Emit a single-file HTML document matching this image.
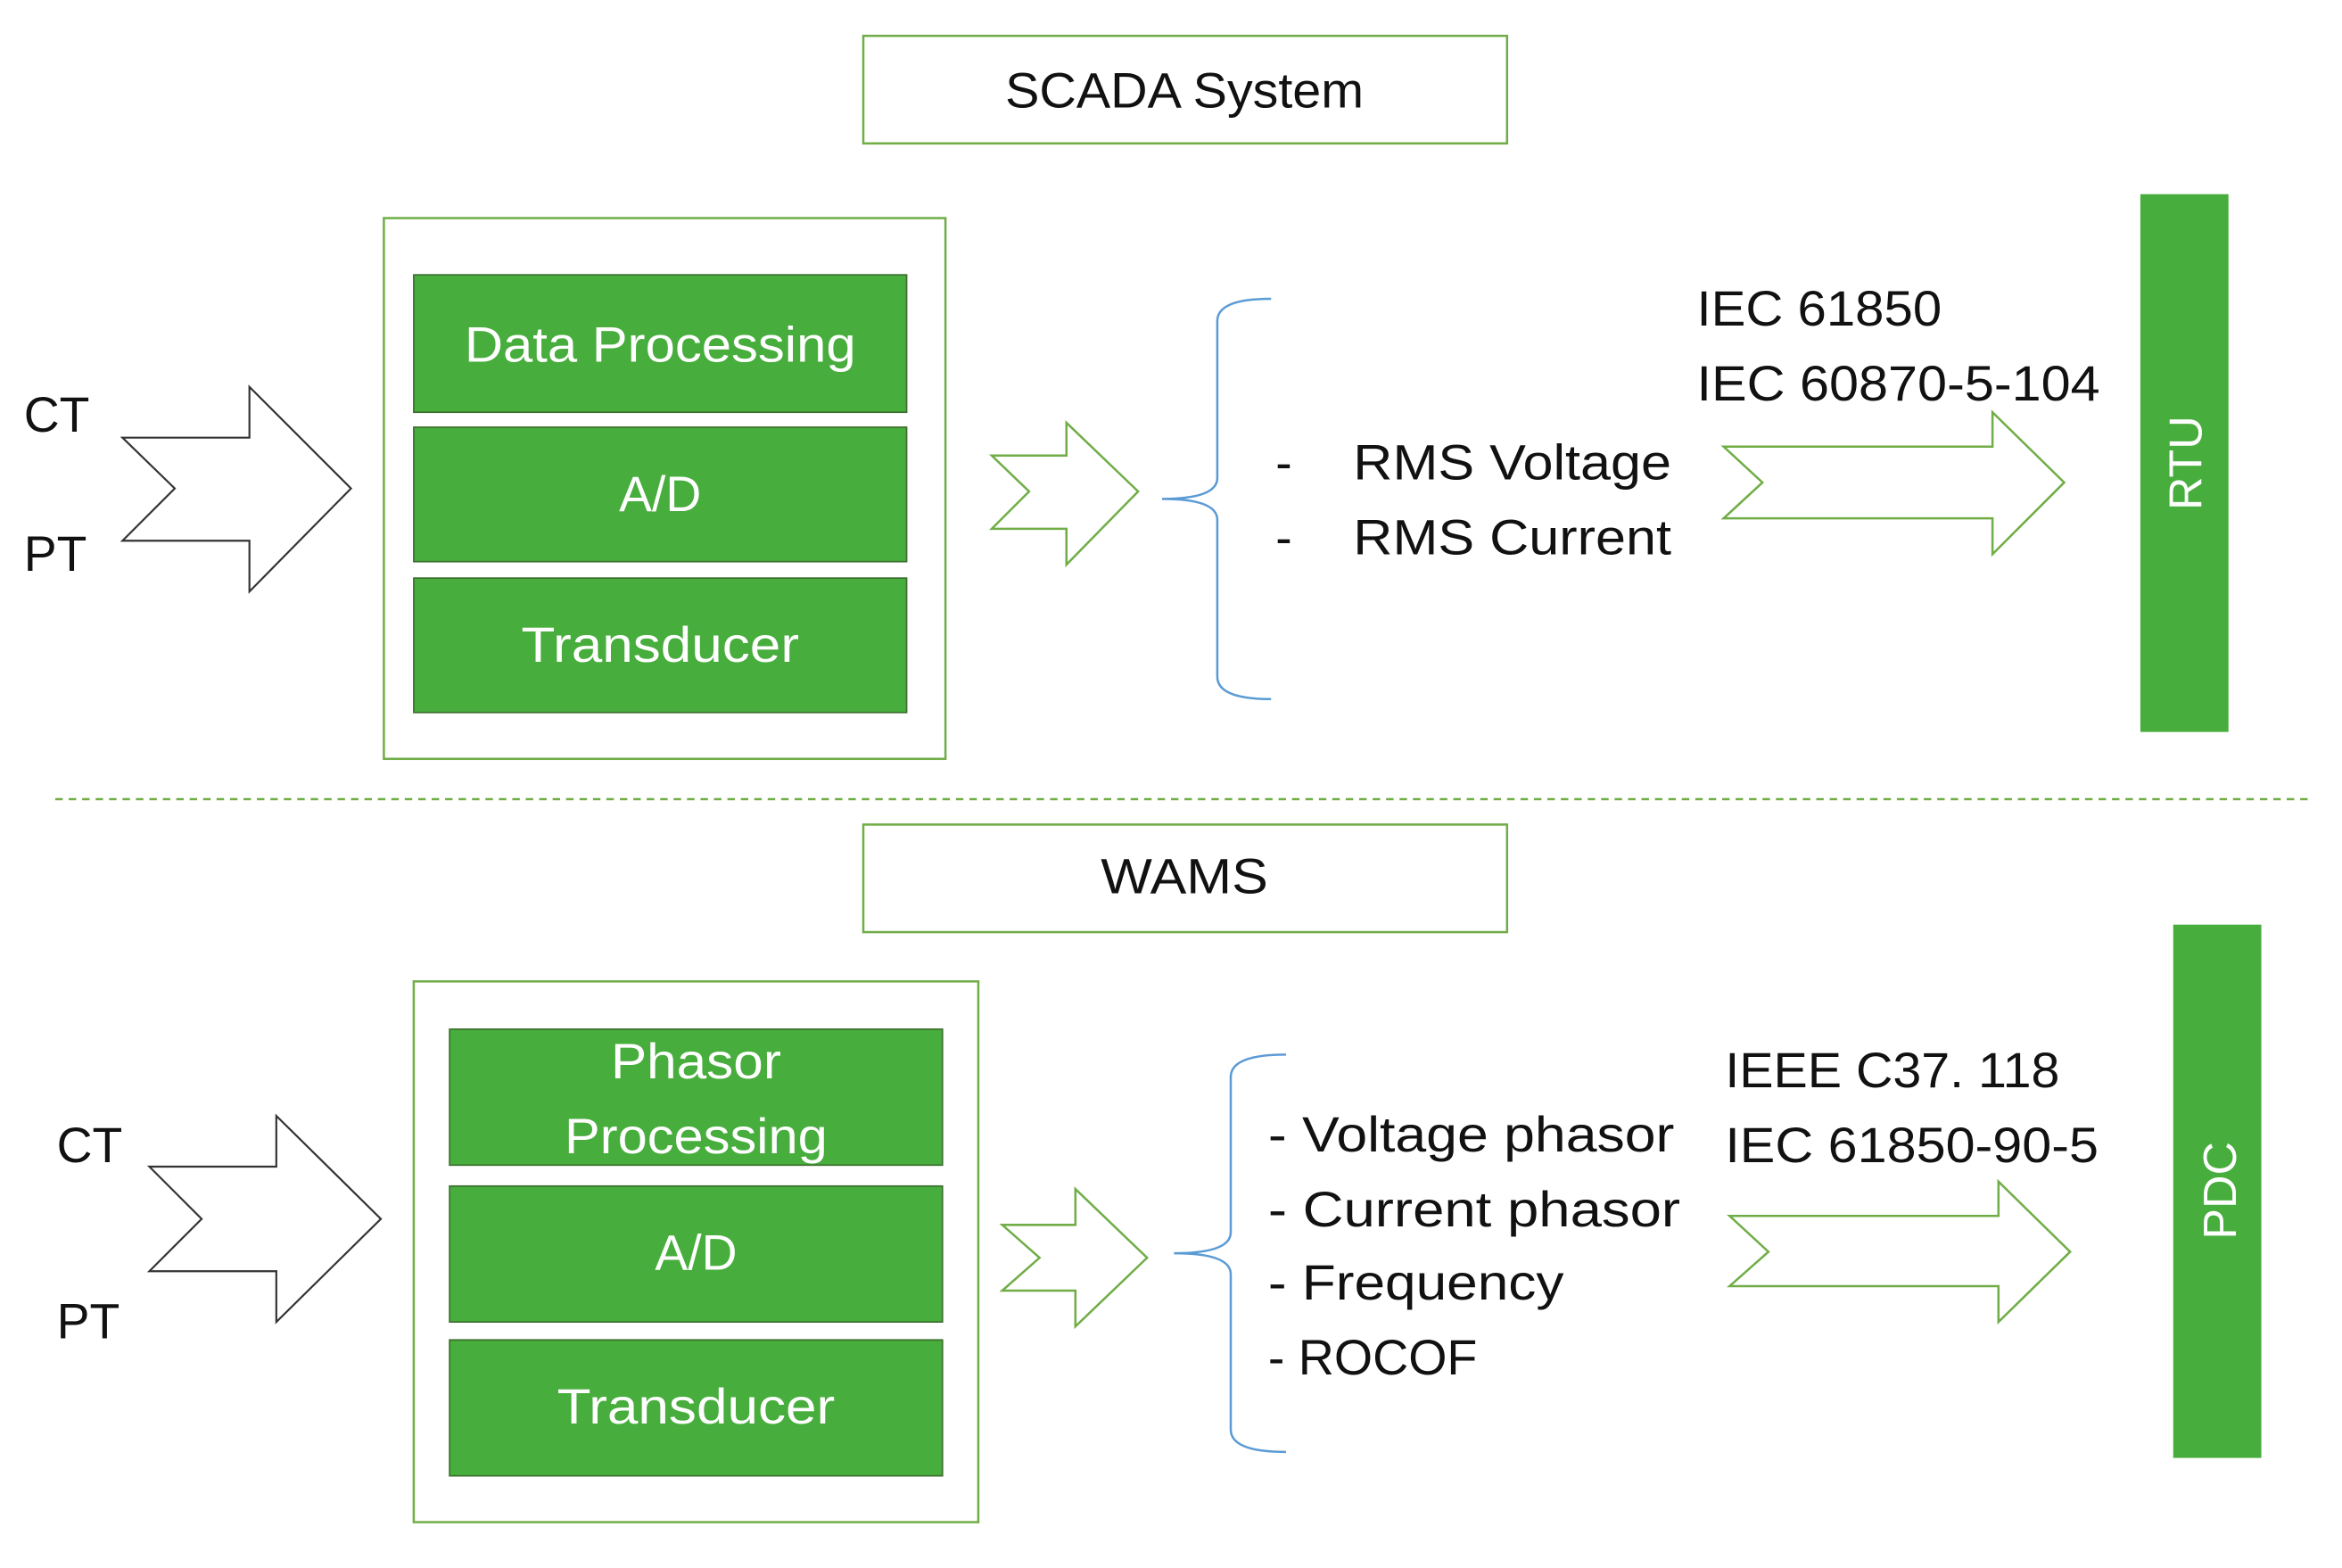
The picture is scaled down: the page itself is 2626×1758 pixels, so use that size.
<!DOCTYPE html>
<html><head><meta charset="utf-8"><style>
html,body{margin:0;padding:0;background:#fff;}
svg{display:block;}
text{font-family:"Liberation Sans",sans-serif;}
</style></head><body>
<svg width="2626" height="1758" viewBox="0 0 1568 1049.7" preserveAspectRatio="none" xmlns="http://www.w3.org/2000/svg">
<g fill="none" stroke="#70ad47" stroke-width="1.5">
<rect x="578" y="24" width="431" height="72"/>
<rect x="257" y="146" width="376" height="362"/>
<rect x="578" y="552" width="431" height="72"/>
<rect x="277" y="657" width="378" height="362"/>
<line x1="37" y1="535" x2="1546" y2="535" stroke-dasharray="5,4"/>
<polygon points="664,305 714,305 714,283 762,329 714,378 714,354 664,354 689,329"/>
<polygon points="1154,299 1334,299 1334,276 1382,323 1334,371 1334,347 1154,347 1180,323"/>
<polygon points="671,820 720,820 720,796 768,842 720,888 720,864 671,864 696,842"/>
<polygon points="1158,814 1338,814 1338,791 1386,838 1338,885 1338,861 1158,861 1184,838"/>
</g>
<g fill="none" stroke="#333" stroke-width="1.3">
<polygon points="82,293 167,293 167,259 235,327 167,396 167,362 82,362 117,327"/>
<polygon points="100,781 185,781 185,747 255,816 185,885 185,851 100,851 135,816"/>
</g>
<g fill="none" stroke="#5b9bd5" stroke-width="1.5">
<path d="M851,200 Q815,200 815,215 L815,320 Q815,334 778,334 Q815,334 815,348 L815,453 Q815,468 851,468"/>
<path d="M861,706 Q824,706 824,721 L824,825 Q824,839 786,839 Q824,839 824,853 L824,957 Q824,972 861,972"/>
</g>
<g fill="#47ad3c" stroke="#3b6e2e" stroke-width="1">
<rect x="277" y="184" width="330" height="92"/>
<rect x="277" y="286" width="330" height="90"/>
<rect x="277" y="387" width="330" height="90"/>
<rect x="301" y="689" width="330" height="91"/>
<rect x="301" y="794" width="330" height="91"/>
<rect x="301" y="897" width="330" height="91"/>
</g>
<rect x="1433" y="130" width="59" height="360" fill="#47ad3c"/>
<rect x="1455" y="619" width="59" height="357" fill="#47ad3c"/>
<g fill="#fff" font-size="33" text-anchor="middle">
<text x="442" y="242" textLength="262" lengthAdjust="spacingAndGlyphs">Data Processing</text>
<text x="442" y="342">A/D</text>
<text x="442" y="443" textLength="186" lengthAdjust="spacingAndGlyphs">Transducer</text>
<text x="466" y="722" textLength="114" lengthAdjust="spacingAndGlyphs">Phasor</text>
<text x="466" y="772" textLength="176" lengthAdjust="spacingAndGlyphs">Processing</text>
<text x="466" y="850">A/D</text>
<text x="466" y="953" textLength="186" lengthAdjust="spacingAndGlyphs">Transducer</text>
<text transform="translate(1474,310) rotate(-90)" font-size="31">RTU</text>
<text transform="translate(1497,797) rotate(-90)" font-size="31">PDC</text>
</g>
<g fill="#111" font-size="33">
<text x="793" y="72" text-anchor="middle" textLength="240" lengthAdjust="spacingAndGlyphs">SCADA System</text>
<text x="793" y="598" text-anchor="middle" textLength="112" lengthAdjust="spacingAndGlyphs">WAMS</text>
<text x="16" y="289">CT</text>
<text x="16" y="382">PT</text>
<text x="38" y="778">CT</text>
<text x="38" y="896">PT</text>
<text x="854" y="321">-</text>
<text x="854" y="371">-</text>
<text x="906" y="321" textLength="213" lengthAdjust="spacingAndGlyphs">RMS Voltage</text>
<text x="906" y="371" textLength="213" lengthAdjust="spacingAndGlyphs">RMS Current</text>
<text x="1136" y="218" textLength="164" lengthAdjust="spacingAndGlyphs">IEC 61850</text>
<text x="1136" y="268" textLength="270" lengthAdjust="spacingAndGlyphs">IEC 60870-5-104</text>
<text x="849" y="771" textLength="272" lengthAdjust="spacingAndGlyphs">- Voltage phasor</text>
<text x="849" y="821" textLength="276" lengthAdjust="spacingAndGlyphs">- Current phasor</text>
<text x="849" y="870" textLength="198" lengthAdjust="spacingAndGlyphs">- Frequency</text>
<text x="849" y="920" textLength="140" lengthAdjust="spacingAndGlyphs">- ROCOF</text>
<text x="1155" y="728" textLength="224" lengthAdjust="spacingAndGlyphs">IEEE C37. 118</text>
<text x="1155" y="778" textLength="250" lengthAdjust="spacingAndGlyphs">IEC 61850-90-5</text>
</g>
</svg>
</body></html>
